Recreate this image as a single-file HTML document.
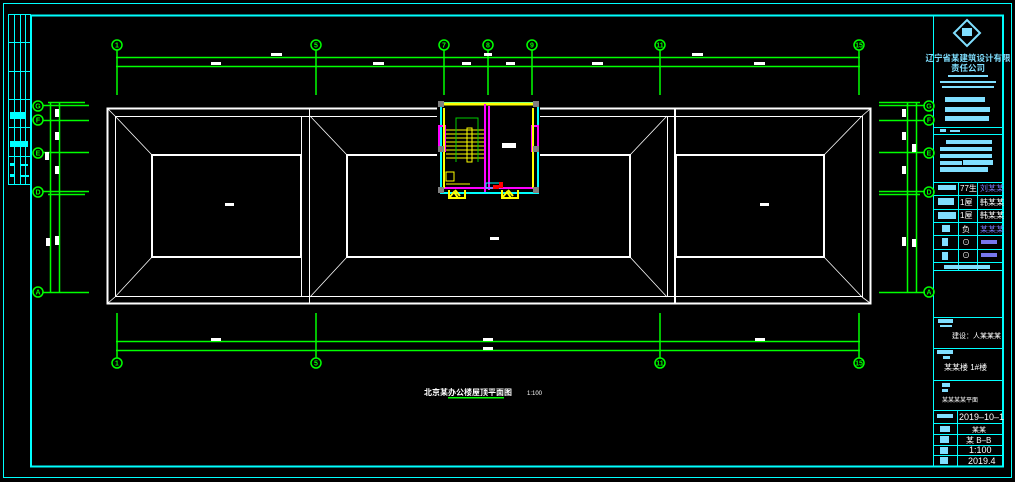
<!DOCTYPE html>
<html><head><meta charset="utf-8"><style>
html,body{margin:0;padding:0;background:#000;width:1015px;height:482px;overflow:hidden}
svg{display:block}
text{font-family:"Liberation Sans","Noto Sans CJK SC",sans-serif}
</style></head><body>
<svg width="1015" height="482" viewBox="0 0 1015 482" xmlns="http://www.w3.org/2000/svg">
<rect width="1015" height="482" fill="#000"/>
<rect x="3.5" y="3.5" width="1008" height="474" fill="none" stroke="#00ffff" stroke-width="1"/>
<rect x="31" y="15.5" width="972" height="451" fill="none" stroke="#00ffff" stroke-width="2"/>
<g stroke="#00ffff" stroke-width="1" fill="none">
<rect x="8.5" y="14.5" width="22" height="170"/>
<line x1="14.5" y1="15" x2="14.5" y2="184"/><line x1="20.5" y1="15" x2="20.5" y2="184"/><line x1="25.5" y1="15" x2="25.5" y2="184"/>
<line x1="9" y1="42.5" x2="31" y2="42.5"/><line x1="9" y1="71.5" x2="31" y2="71.5"/><line x1="9" y1="99.5" x2="31" y2="99.5"/><line x1="9" y1="127.5" x2="31" y2="127.5"/><line x1="9" y1="156.5" x2="31" y2="156.5"/>
</g>
<g fill="#00ffff"><rect x="10" y="112" width="15" height="7"/><rect x="10" y="141" width="18" height="6"/><rect x="10" y="163" width="5" height="3"/><rect x="21" y="164" width="7" height="2"/><rect x="10" y="174" width="5" height="3"/><rect x="21" y="175" width="8" height="2"/></g>

<g stroke="#00ffff" stroke-width="1" fill="none">
<line x1="933.5" y1="15" x2="933.5" y2="466"/>
<line x1="934" y1="127.5" x2="1003" y2="127.5"/><line x1="934" y1="134.5" x2="1003" y2="134.5"/>
<line x1="934" y1="182.5" x2="1003" y2="182.5"/>
<line x1="934" y1="195.5" x2="1003" y2="195.5"/><line x1="934" y1="209.5" x2="1003" y2="209.5"/><line x1="934" y1="222.5" x2="1003" y2="222.5"/><line x1="934" y1="235.5" x2="1003" y2="235.5"/><line x1="934" y1="249.5" x2="1003" y2="249.5"/><line x1="934" y1="262.5" x2="1003" y2="262.5"/><line x1="934" y1="270.5" x2="1003" y2="270.5"/>
<line x1="958.5" y1="183" x2="958.5" y2="270"/><line x1="977.5" y1="183" x2="977.5" y2="270"/>
<line x1="934" y1="317.5" x2="1003" y2="317.5"/><line x1="934" y1="348.5" x2="1003" y2="348.5"/><line x1="934" y1="380.5" x2="1003" y2="380.5"/>
<line x1="934" y1="410.5" x2="1003" y2="410.5"/><line x1="934" y1="423.5" x2="1003" y2="423.5"/><line x1="934" y1="434.5" x2="1003" y2="434.5"/><line x1="934" y1="445.5" x2="1003" y2="445.5"/><line x1="934" y1="455.5" x2="1003" y2="455.5"/>
<line x1="957.5" y1="411" x2="957.5" y2="466"/>
<polygon points="967,20 980,33 967,46 954,33" stroke="#80dfff" stroke-width="2"/>
</g>
<g fill="#80dfff">
<rect x="962" y="28" width="10" height="8"/>
<text x="968" y="61" font-size="8.5" text-anchor="middle" font-weight="bold">辽宁省某建筑设计有限</text>
<text x="968" y="71" font-size="8.5" text-anchor="middle" font-weight="bold">责任公司</text>
<rect x="948" y="75" width="40" height="2"/><rect x="940" y="81" width="56" height="2"/><rect x="942" y="86" width="52" height="2"/>
<rect x="945" y="97" width="40" height="5"/><rect x="945" y="107" width="45" height="5"/><rect x="945" y="116" width="44" height="5"/>
<rect x="940" y="129" width="6" height="3"/><rect x="950" y="130" width="10" height="2"/>
<rect x="946" y="140" width="46" height="4"/><rect x="940" y="147" width="52" height="4"/><rect x="940" y="154" width="52" height="4"/><rect x="940" y="161" width="22" height="4"/><rect x="963" y="160" width="30" height="5"/><rect x="940" y="167" width="48" height="5"/>
<rect x="938" y="185" width="18" height="5"/><rect x="938" y="198" width="16" height="7"/><rect x="938" y="212" width="18" height="7"/>
<rect x="942" y="225" width="8" height="7"/><rect x="942" y="238" width="6" height="8"/><rect x="942" y="252" width="6" height="8"/>
<rect x="944" y="265" width="46" height="4"/>
<rect x="938" y="319" width="15" height="4"/><rect x="940" y="325" width="12" height="2"/>
<rect x="937" y="350" width="16" height="4"/><rect x="943" y="356" width="7" height="3"/>
<rect x="942" y="383" width="8" height="4"/><rect x="942" y="389" width="6" height="3"/>
<rect x="937" y="414" width="16" height="4"/><rect x="940" y="426" width="10" height="6"/><rect x="940" y="436" width="9" height="7"/><rect x="940" y="447" width="8" height="7"/><rect x="940" y="457" width="8" height="7"/>
</g>
<g fill="#fff" font-size="8">
<text x="960" y="191">77生</text><text x="980" y="191" fill="#7777ee">刘某某</text>
<text x="960" y="205">1屋</text><text x="980" y="205">韩某某</text>
<text x="960" y="218">1屋</text><text x="980" y="218">韩某某</text>
<text x="962" y="232">负</text><text x="980" y="232" fill="#7777ee">某某某</text>
<text x="962" y="245">⊙</text><rect x="981" y="240" width="16" height="4" fill="#7777ee"/>
<text x="962" y="258">⊙</text><rect x="981" y="253" width="16" height="4" fill="#7777ee"/>
<text x="952" y="338" font-size="7">建设：人某某某</text>
<text x="944" y="370" font-size="8">某某楼 1#楼</text>
<text x="942" y="402" font-size="6">某某某某平面</text>
<text x="959" y="420" font-size="9">2019–10–1</text>
<text x="972" y="432" font-size="7">某某</text>
<text x="966" y="443" font-size="8">某 B–B</text>
<text x="969" y="453" font-size="9">1:100</text>
<text x="968" y="464" font-size="9">2019.4</text>
</g>

<g stroke="#fff" fill="none">
<rect x="107.5" y="108.5" width="763" height="195" stroke-width="2"/>
<line x1="115" y1="116.5" x2="862" y2="116.5"/><line x1="115" y1="296.5" x2="862" y2="296.5"/>
<line x1="115.5" y1="116" x2="115.5" y2="297"/><line x1="862.5" y1="116" x2="862.5" y2="297"/>
<line x1="301.5" y1="116" x2="301.5" y2="297"/><line x1="309.5" y1="109" x2="309.5" y2="303"/>
<line x1="667.5" y1="116" x2="667.5" y2="297"/><line x1="675" y1="109" x2="675" y2="303" stroke-width="2"/>
<g stroke-width="2">
<rect x="152" y="155" width="149" height="102"/>
<rect x="347" y="155" width="283" height="102"/>
<rect x="676" y="155" width="148" height="102"/>
</g>
<g stroke-width="0.8">
<line x1="115" y1="116" x2="152" y2="155"/><line x1="115" y1="297" x2="152" y2="257"/>
<line x1="310" y1="116" x2="347" y2="155"/><line x1="310" y1="297" x2="347" y2="257"/>
<line x1="667" y1="116" x2="630" y2="155"/><line x1="667" y1="297" x2="630" y2="257"/>
<line x1="862" y1="116" x2="824" y2="155"/><line x1="862" y1="297" x2="824" y2="257"/>
<line x1="108" y1="109" x2="115" y2="116"/><line x1="870" y1="109" x2="862" y2="116"/><line x1="108" y1="303" x2="115" y2="297"/><line x1="870" y1="303" x2="862" y2="297"/>
</g>
</g>
<g fill="#fff"><rect x="225" y="203" width="9" height="3"/><rect x="490" y="237" width="9" height="3"/><rect x="760" y="203" width="9" height="3"/></g>

<rect x="437" y="100" width="103" height="96" fill="#000"/>
<g fill="none" stroke-width="2">
<rect x="441" y="103" width="97" height="90" stroke="#00ffff"/>
<line x1="444" y1="104" x2="536" y2="104" stroke="#ffff00" stroke-width="3"/>
<line x1="485" y1="104" x2="485" y2="192" stroke="#ff00ff"/>
<line x1="489" y1="106" x2="489" y2="190" stroke="#ff00ff"/>
<line x1="441" y1="188" x2="538" y2="188" stroke="#ff00ff"/>
<rect x="439" y="126" width="6" height="25" stroke="#ff00ff"/>
<rect x="532" y="126" width="6" height="25" stroke="#ff00ff"/>
<line x1="444" y1="108" x2="444" y2="188" stroke="#ffff00"/>
<line x1="533" y1="108" x2="533" y2="188" stroke="#ffff00"/>
</g>
<g stroke="#ffff00" stroke-width="1" fill="none">
<rect x="467" y="128" width="5" height="34"/>
<line x1="446" y1="130" x2="484" y2="130"/><line x1="446" y1="134" x2="484" y2="134"/><line x1="446" y1="138" x2="484" y2="138"/><line x1="446" y1="142" x2="484" y2="142"/><line x1="446" y1="146" x2="484" y2="146"/><line x1="446" y1="150" x2="484" y2="150"/><line x1="446" y1="154" x2="484" y2="154"/><line x1="446" y1="158" x2="484" y2="158"/>
<rect x="446" y="172" width="8" height="9"/><line x1="446" y1="184" x2="470" y2="184"/>
</g>
<g stroke="#ffff00" stroke-width="2" fill="none">
<path d="M449 190 v8 h16 v-8 M449 198 l5 -6 l4 6 M455 190 l5 6"/>
<path d="M502 190 v8 h16 v-8 M502 198 l5 -6 l4 6 M508 190 l5 6"/>
</g>
<polyline points="456,162 456,118 478,118 478,162" fill="none" stroke="#00cc00" stroke-width="1"/>
<rect x="486" y="183" width="14" height="5" fill="none" stroke="#00ffff"/>
<rect x="493" y="185" width="6" height="4" fill="#ff0000"/><rect x="499" y="182" width="4" height="6" fill="#ff0000"/>
<g fill="#808080"><rect x="438" y="101" width="6" height="6"/><rect x="533" y="101" width="6" height="6"/><rect x="438" y="146" width="6" height="6"/><rect x="533" y="146" width="6" height="6"/><rect x="438" y="187" width="6" height="6"/><rect x="533" y="187" width="6" height="6"/></g>
<rect x="502" y="143" width="14" height="5" fill="#fff"/>

<g stroke="#00ff00" stroke-width="1.5" fill="none">
<line x1="116" y1="57.5" x2="860" y2="57.5"/><line x1="116" y1="66.5" x2="860" y2="66.5"/>
<line x1="116" y1="341.5" x2="860" y2="341.5"/><line x1="116" y1="350.5" x2="860" y2="350.5"/>
<line x1="117" y1="50" x2="117" y2="95"/><line x1="316" y1="50" x2="316" y2="95"/><line x1="444" y1="50" x2="444" y2="95"/><line x1="488" y1="50" x2="488" y2="95"/><line x1="532" y1="50" x2="532" y2="95"/><line x1="660" y1="50" x2="660" y2="95"/><line x1="859" y1="50" x2="859" y2="95"/>
<line x1="117" y1="313" x2="117" y2="358"/><line x1="316" y1="313" x2="316" y2="358"/><line x1="660" y1="313" x2="660" y2="358"/><line x1="859" y1="313" x2="859" y2="358"/>
<circle cx="117" cy="45" r="5"/><circle cx="316" cy="45" r="5"/><circle cx="444" cy="45" r="5"/><circle cx="488" cy="45" r="5"/><circle cx="532" cy="45" r="5"/><circle cx="660" cy="45" r="5"/><circle cx="859" cy="45" r="5"/>
<circle cx="117" cy="363" r="5"/><circle cx="316" cy="363" r="5"/><circle cx="660" cy="363" r="5"/><circle cx="859" cy="363" r="5"/>
<line x1="50.5" y1="103" x2="50.5" y2="293"/><line x1="59.5" y1="103" x2="59.5" y2="293"/>
<line x1="48" y1="102.5" x2="85" y2="102.5"/><line x1="43" y1="105.5" x2="89" y2="105.5"/><line x1="43" y1="120.5" x2="89" y2="120.5"/><line x1="43" y1="152.5" x2="89" y2="152.5"/><line x1="43" y1="191.5" x2="89" y2="191.5"/><line x1="48" y1="194.5" x2="85" y2="194.5"/><line x1="43" y1="292.5" x2="89" y2="292.5"/>
<circle cx="38" cy="106" r="5"/><circle cx="38" cy="120" r="5"/><circle cx="38" cy="153" r="5"/><circle cx="38" cy="192" r="5"/><circle cx="38" cy="292" r="5"/>
<line x1="907.5" y1="102" x2="907.5" y2="293"/><line x1="916.5" y1="102" x2="916.5" y2="293"/>
<line x1="879" y1="102.5" x2="920" y2="102.5"/><line x1="879" y1="105.5" x2="925" y2="105.5"/><line x1="879" y1="120.5" x2="925" y2="120.5"/><line x1="879" y1="152.5" x2="925" y2="152.5"/><line x1="879" y1="191.5" x2="925" y2="191.5"/><line x1="879" y1="194.5" x2="920" y2="194.5"/><line x1="879" y1="292.5" x2="925" y2="292.5"/>
<circle cx="929" cy="106" r="5"/><circle cx="929" cy="120" r="5"/><circle cx="929" cy="153" r="5"/><circle cx="929" cy="192" r="5"/><circle cx="929" cy="292" r="5"/>
</g>
<g fill="#00ff00" font-size="7" font-weight="bold" text-anchor="middle">
<text x="117" y="47.5">1</text><text x="316" y="47.5">5</text><text x="444" y="47.5">7</text><text x="488" y="47.5">8</text><text x="532" y="47.5">9</text><text x="660" y="47.5">11</text><text x="859" y="47.5">15</text>
<text x="117" y="365.5">1</text><text x="316" y="365.5">5</text><text x="660" y="365.5">11</text><text x="859" y="365.5">15</text>
<text x="38" y="108.5">G</text><text x="38" y="122.5">F</text><text x="38" y="155.5">E</text><text x="38" y="194.5">D</text><text x="38" y="294.5">A</text>
<text x="929" y="108.5">G</text><text x="929" y="122.5">F</text><text x="929" y="155.5">E</text><text x="929" y="194.5">D</text><text x="929" y="294.5">A</text>
</g>
<g fill="#fff">
<rect x="271" y="53" width="11" height="3"/><rect x="211" y="62" width="10" height="3"/><rect x="373" y="62" width="11" height="3"/><rect x="462" y="62" width="9" height="3"/><rect x="506" y="62" width="9" height="3"/><rect x="484" y="53" width="8" height="3"/><rect x="592" y="62" width="11" height="3"/><rect x="692" y="53" width="11" height="3"/><rect x="754" y="62" width="11" height="3"/>
<rect x="211" y="338" width="10" height="3"/><rect x="483" y="338" width="10" height="3"/><rect x="483" y="347" width="10" height="3"/><rect x="755" y="338" width="10" height="3"/>
<rect x="55" y="109" width="4" height="8"/><rect x="55" y="132" width="4" height="8"/><rect x="45" y="152" width="4" height="8"/><rect x="55" y="166" width="4" height="8"/><rect x="46" y="238" width="4" height="8"/><rect x="55" y="236" width="4" height="9"/>
<rect x="902" y="109" width="4" height="8"/><rect x="902" y="132" width="4" height="8"/><rect x="912" y="144" width="4" height="8"/><rect x="902" y="166" width="4" height="8"/><rect x="902" y="237" width="4" height="9"/><rect x="912" y="239" width="4" height="8"/>
</g>
<text x="468" y="395" fill="#fff" font-size="8" text-anchor="middle" font-weight="bold">北京某办公楼屋顶平面图</text>
<text x="527" y="395" fill="#fff" font-size="6">1:100</text>
<rect x="448" y="397" width="56" height="1.5" fill="#00ff00"/>
</svg>
</body></html>
